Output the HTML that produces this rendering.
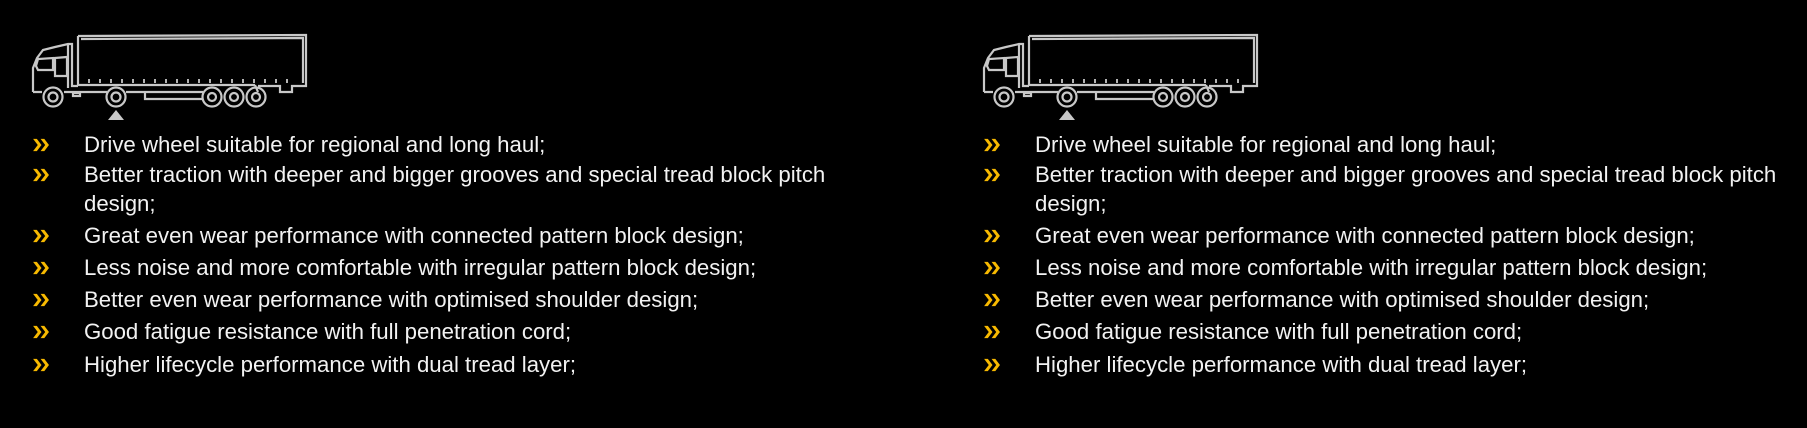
<!DOCTYPE html>
<html><head><meta charset="utf-8"><style>
html,body{margin:0;padding:0;background:#000;width:1807px;height:428px;overflow:hidden;}
.panel{position:absolute;top:0;width:900px;height:428px;}
.item{position:absolute;left:84px;font-family:"Liberation Sans",sans-serif;font-size:22.2px;color:#f2f2f2;line-height:29px;white-space:nowrap;}
.chev{position:absolute;left:32px;width:19px;height:14px;}
svg{position:absolute;left:0;top:0;}
</style></head><body>
<div class="panel" style="left:0">
<svg width="320" height="125" viewBox="0 0 320 125" fill="none" stroke="#c8c8c8" stroke-width="2.2">
 <path d="M33 92 L33 68 L37 58 L43 50 L55 47 L68 44 L72 44 L72 86 L78 86"/>
 <path d="M36 66 L38 59 L53 58 L53 70 L38 70 Z"/>
 <path d="M55 58 L67 57 L67 76 L55 76 Z"/>
 <path d="M68 44 L68 88"/>
 <path d="M78 36 L306 35 L306 86 L292 86 L292 92 L280 92 L280 86 L258 86"/>
 <path d="M81 39 L303 38 L303 83"/>
 <path d="M78 36 L78 85 L255 85"/>
 <path d="M33 92 L42 92 M64 92 L107 92 M126 92 L145 92 L145 99 L203 99 M145 92 L203 92"/>
 <path d="M255 85 L258 92"/>
 <g stroke-width="1.8">
 <line x1="89" y1="79" x2="89" y2="83"/><line x1="100" y1="79" x2="100" y2="83"/><line x1="111" y1="79" x2="111" y2="83"/><line x1="122" y1="79" x2="122" y2="83"/><line x1="133" y1="79" x2="133" y2="83"/><line x1="144" y1="79" x2="144" y2="83"/><line x1="155" y1="79" x2="155" y2="83"/><line x1="166" y1="79" x2="166" y2="83"/><line x1="177" y1="79" x2="177" y2="83"/><line x1="188" y1="79" x2="188" y2="83"/><line x1="199" y1="79" x2="199" y2="83"/><line x1="210" y1="79" x2="210" y2="83"/><line x1="221" y1="79" x2="221" y2="83"/><line x1="232" y1="79" x2="232" y2="83"/><line x1="243" y1="79" x2="243" y2="83"/><line x1="254" y1="79" x2="254" y2="83"/><line x1="265" y1="79" x2="265" y2="83"/><line x1="276" y1="79" x2="276" y2="83"/><line x1="287" y1="79" x2="287" y2="83"/>
 </g>
 <rect x="73" y="93" width="7" height="3"/>
 <circle cx="53" cy="97" r="9.5"/><circle cx="53" cy="97" r="4.5"/>
 <circle cx="116" cy="97" r="9.5"/><circle cx="116" cy="97" r="4.5"/>
 <circle cx="212" cy="97" r="9.5"/><circle cx="212" cy="97" r="4"/>
 <circle cx="234" cy="97" r="9.5"/><circle cx="234" cy="97" r="4"/>
 <circle cx="256" cy="97" r="9.5"/><circle cx="256" cy="97" r="4"/>
 <path d="M108 120 L116 110 L124 120 Z" fill="#c8c8c8" stroke="none"/>
</svg>
<svg class="chev" style="top:138px;position:absolute;left:32px" width="19" height="14" viewBox="0 0 20 15"><path d="M1 1 L5 1 L10 7.5 L5 14 L1 14 L6 7.5 Z M9 1 L13 1 L18 7.5 L13 14 L9 14 L14 7.5 Z" fill="#f7b900"/></svg>
<div class="item" style="top:130px">Drive wheel suitable for regional and long haul;</div>
<svg class="chev" style="top:168px;position:absolute;left:32px" width="19" height="14" viewBox="0 0 20 15"><path d="M1 1 L5 1 L10 7.5 L5 14 L1 14 L6 7.5 Z M9 1 L13 1 L18 7.5 L13 14 L9 14 L14 7.5 Z" fill="#f7b900"/></svg>
<div class="item" style="top:160px">Better traction with deeper and bigger grooves and special tread block pitch<br>design;</div>
<svg class="chev" style="top:229px;position:absolute;left:32px" width="19" height="14" viewBox="0 0 20 15"><path d="M1 1 L5 1 L10 7.5 L5 14 L1 14 L6 7.5 Z M9 1 L13 1 L18 7.5 L13 14 L9 14 L14 7.5 Z" fill="#f7b900"/></svg>
<div class="item" style="top:221px">Great even wear performance with connected pattern block design;</div>
<svg class="chev" style="top:261px;position:absolute;left:32px" width="19" height="14" viewBox="0 0 20 15"><path d="M1 1 L5 1 L10 7.5 L5 14 L1 14 L6 7.5 Z M9 1 L13 1 L18 7.5 L13 14 L9 14 L14 7.5 Z" fill="#f7b900"/></svg>
<div class="item" style="top:253px">Less noise and more comfortable with irregular pattern block design;</div>
<svg class="chev" style="top:293px;position:absolute;left:32px" width="19" height="14" viewBox="0 0 20 15"><path d="M1 1 L5 1 L10 7.5 L5 14 L1 14 L6 7.5 Z M9 1 L13 1 L18 7.5 L13 14 L9 14 L14 7.5 Z" fill="#f7b900"/></svg>
<div class="item" style="top:285px">Better even wear performance with optimised shoulder design;</div>
<svg class="chev" style="top:325px;position:absolute;left:32px" width="19" height="14" viewBox="0 0 20 15"><path d="M1 1 L5 1 L10 7.5 L5 14 L1 14 L6 7.5 Z M9 1 L13 1 L18 7.5 L13 14 L9 14 L14 7.5 Z" fill="#f7b900"/></svg>
<div class="item" style="top:317px">Good fatigue resistance with full penetration cord;</div>
<svg class="chev" style="top:358px;position:absolute;left:32px" width="19" height="14" viewBox="0 0 20 15"><path d="M1 1 L5 1 L10 7.5 L5 14 L1 14 L6 7.5 Z M9 1 L13 1 L18 7.5 L13 14 L9 14 L14 7.5 Z" fill="#f7b900"/></svg>
<div class="item" style="top:350px">Higher lifecycle performance with dual tread layer;</div>
</div>
<div class="panel" id="p2" style="left:951px"></div>
<script>document.getElementById('p2').innerHTML=document.querySelector('.panel').innerHTML;</script>
</body></html>
